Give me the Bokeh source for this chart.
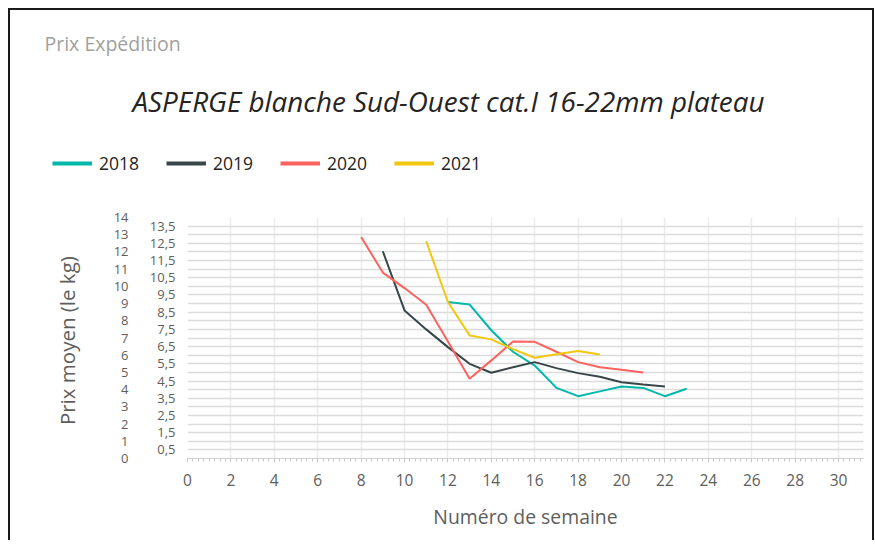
from bokeh.plotting import figure
from bokeh.layouts import column
from bokeh.models import (Range1d, LinearAxis, FixedTicker, SingleIntervalTicker,
                          Legend, LegendItem, Label)
from bokeh.embed import file_html
from bokeh.resources import INLINE

# ---------------- data ----------------
years = ["2018", "2019", "2020", "2021"]
colors = ["#01B8AA", "#374649", "#FD625E", "#F2C80F"]

weeks_2018 = [12, 13, 14, 15, 16, 17, 18, 19, 20, 21, 22, 23]
prix_2018 = [9.09, 8.94, 7.45, 6.2, 5.4, 4.1, 3.62, 3.9, 4.18, 4.1, 3.62, 4.05]

weeks_2019 = [9, 10, 11, 12, 13, 14, 15, 16, 17, 18, 19, 20, 21, 22]
prix_2019 = [12.04, 8.6, 7.5, 6.47, 5.5, 4.98, 5.3, 5.6, 5.25, 4.96, 4.75, 4.43, 4.3, 4.18]

weeks_2020 = [8, 9, 10, 11, 12, 13, 14, 15, 16, 17, 18, 19, 20, 21]
prix_2020 = [12.87, 10.8, 9.9, 8.93, 6.8, 4.63, 5.7, 6.8, 6.78, 6.2, 5.6, 5.3, 5.15, 5.0]

weeks_2021 = [11, 12, 13, 14, 15, 16, 17, 18, 19]
prix_2021 = [12.62, 9.09, 7.15, 6.92, 6.35, 5.85, 6.05, 6.24, 6.04]

series_weeks = [weeks_2018, weeks_2019, weeks_2020, weeks_2021]
series_prix = [prix_2018, prix_2019, prix_2020, prix_2021]

y_int_ticks = list(range(0, 15))
y_half_ticks = [0.5, 1.5, 2.5, 3.5, 4.5, 5.5, 6.5, 7.5, 8.5, 9.5, 10.5, 11.5, 12.5, 13.5]
y_half_labels = ["0,5", "1,5", "2,5", "3,5", "4,5", "5,5", "6,5", "7,5", "8,5",
                 "9,5", "10,5", "11,5", "12,5", "13,5"]

title_text = "ASPERGE blanche Sud-Ouest cat.I 16-22mm plateau"
header_text = "Prix Expédition"
x_title = "Numéro de semaine"
y_title = "Prix moyen  (le kg)"

FONT = "Open Sans"
GREY = "#605E5C"

W = 862
HEAD_H = 180

# ---------------- header (titles + legend) ----------------
# its ranges lie away from the data, so the legend proxies below stay out of view
head = figure(width=W, height=HEAD_H, x_range=Range1d(100, 200), y_range=Range1d(100, 200),
              output_backend="svg", toolbar_location=None,
              x_axis_type=None, y_axis_type=None, min_border=0)
head.frame_align = False
head.outline_line_color = None
head.background_fill_color = "white"
head.border_fill_color = "white"
head.grid.visible = False

head.add_layout(Label(x=34, y=147, x_units="screen", y_units="screen", text=header_text,
                      text_font=FONT, text_font_size="19.5px", text_color="#a19f9d",
                      text_align="left", text_baseline="middle"))
head.add_layout(Label(x=122, y=90, x_units="screen", y_units="screen", text=title_text,
                      text_font=FONT, text_font_size="27.8px", text_font_style="italic",
                      text_color="#252423", text_align="left", text_baseline="middle"))

items = []
for yr, col, wk, pr in zip(years, colors, series_weeks, series_prix):
    proxy = head.line(wk, pr, line_color=col, line_width=4)
    items.append(LegendItem(label=yr, renderers=[proxy]))
legend = Legend(items=items, orientation="horizontal", location=(42, 15),
                glyph_width=40, glyph_height=20, label_standoff=7, spacing=27,
                padding=0, margin=0, border_line_color=None, background_fill_alpha=0,
                label_text_font=FONT, label_text_font_size="17.5px",
                label_text_color="#252423")
head.add_layout(legend, "center")

# ---------------- main chart ----------------
p = figure(width=W, height=530 - HEAD_H, x_range=Range1d(0, 31.15), y_range=Range1d(0, 14),
           output_backend="svg", toolbar_location=None,
           min_border_left=177, min_border_right=9, min_border_top=207 - HEAD_H,
           min_border_bottom=82)
p.frame_align = False
p.outline_line_color = None
p.background_fill_color = "white"
p.border_fill_color = "white"

# grids
p.xgrid.ticker = SingleIntervalTicker(interval=2, num_minor_ticks=0)
p.xgrid.grid_line_color = "#ebebeb"
p.xgrid.grid_line_width = 1.5
p.ygrid.ticker = SingleIntervalTicker(interval=0.5, num_minor_ticks=0)
p.ygrid.grid_line_color = "#dcdcdc"
p.ygrid.grid_line_width = 1.5

# x axis
xa = p.xaxis[0]
xa.ticker = SingleIntervalTicker(interval=2, num_minor_ticks=8)
xa.axis_line_color = "#d0d0d0"
xa.major_tick_line_color = "#c8c8c8"
xa.minor_tick_line_color = "#c8c8c8"
xa.major_tick_out = 4
xa.major_tick_in = 0
xa.minor_tick_out = 3
xa.minor_tick_in = 0
xa.major_label_standoff = 11
xa.major_label_text_font = FONT
xa.major_label_text_font_size = "15.5px"
xa.major_label_text_color = GREY
xa.axis_label = x_title
xa.axis_label_text_font = FONT
xa.axis_label_text_font_size = "19.4px"
xa.axis_label_text_font_style = "normal"
xa.axis_label_text_color = GREY
xa.axis_label_standoff = 14

# inner y axis (half values)
ya = p.yaxis[0]
ya.ticker = FixedTicker(ticks=y_half_ticks)
ya.major_label_overrides = dict(zip(y_half_ticks, y_half_labels))
ya.axis_line_color = None
ya.major_tick_line_color = None
ya.minor_tick_line_color = None
ya.major_tick_out = 0
ya.major_tick_in = 0
ya.minor_tick_out = 0
ya.minor_tick_in = 0
ya.major_label_standoff = 12
ya.major_label_text_font = FONT
ya.major_label_text_font_size = "13px"
ya.major_label_text_color = GREY

# outer y axis (integers)
yo = LinearAxis(ticker=FixedTicker(ticks=y_int_ticks))
yo.axis_line_color = None
yo.major_tick_line_color = None
yo.minor_tick_line_color = None
yo.major_tick_out = 0
yo.major_tick_in = 0
yo.minor_tick_out = 0
yo.minor_tick_in = 0
yo.major_label_standoff = 18
yo.major_label_text_font = FONT
yo.major_label_text_font_size = "13px"
yo.major_label_text_color = GREY
yo.axis_label = y_title
yo.axis_label_text_font = FONT
yo.axis_label_text_font_size = "20.5px"
yo.axis_label_text_font_style = "normal"
yo.axis_label_text_color = GREY
yo.axis_label_standoff = 30
p.add_layout(yo, "left")

# series
for yr, col, wk, pr in zip(years, colors, series_weeks, series_prix):
    p.line(wk, pr, line_color=col, line_width=2)

layout = column(head, p, spacing=0)
layout.styles = {"border": "2px solid #1a1a1a", "border-bottom": "none",
                 "margin-left": "8px", "margin-top": "8px"}

open("out.html", "w").write(file_html(layout, INLINE))
